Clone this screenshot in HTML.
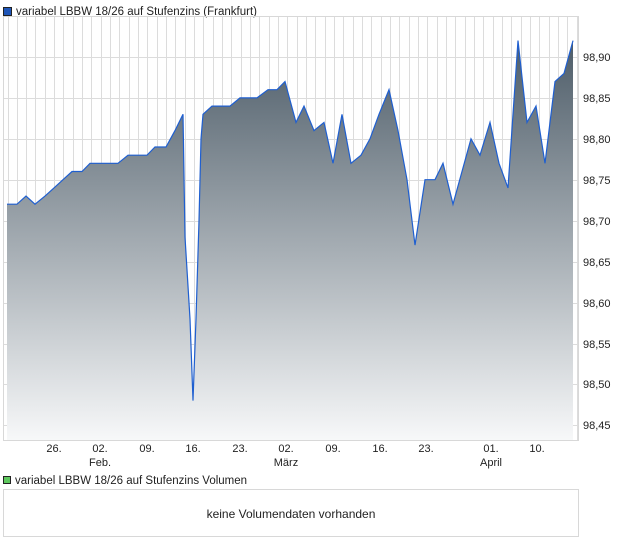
<!DOCTYPE html><html><head><style>
body{margin:0;background:#fff;font-family:"Liberation Sans",sans-serif;}
</style></head><body>
<svg width="620" height="546" xmlns="http://www.w3.org/2000/svg" style="display:block">
<defs><linearGradient id="g" gradientUnits="userSpaceOnUse" x1="0" y1="40" x2="0" y2="440">
<stop offset="0" stop-color="#4d5c68"/><stop offset="1" stop-color="#f7f8f9"/></linearGradient></defs>
<rect x="3.5" y="7.5" width="8" height="8" fill="#1f56b8" stroke="#222" stroke-width="1"/>
<text x="16" y="15" font-size="11.5" fill="#222">variabel LBBW 18/26 auf Stufenzins (Frankfurt)</text>
<g stroke="#dcdcdc" stroke-width="1">
<line x1="3" y1="57.5" x2="578" y2="57.5"/><line x1="3" y1="98.5" x2="578" y2="98.5"/><line x1="3" y1="139.5" x2="578" y2="139.5"/><line x1="3" y1="180.5" x2="578" y2="180.5"/><line x1="3" y1="221.5" x2="578" y2="221.5"/><line x1="3" y1="262.5" x2="578" y2="262.5"/><line x1="3" y1="303.5" x2="578" y2="303.5"/><line x1="3" y1="344.5" x2="578" y2="344.5"/><line x1="3" y1="384.5" x2="578" y2="384.5"/><line x1="3" y1="425.5" x2="578" y2="425.5"/>
</g>
<g id="v" stroke="#dcdcdc" stroke-width="1"></g>
<rect x="3.5" y="16.5" width="575" height="424" fill="none" stroke="#d8d8d8"/>
<path id="area" fill="url(#g)"/>
<path id="ln" fill="none" stroke="#1f5fd0" stroke-width="1.2"/>
<g font-size="11" fill="#222">
<text x="583" y="61">98,90</text><text x="583" y="102">98,85</text><text x="583" y="143">98,80</text><text x="583" y="184">98,75</text><text x="583" y="225">98,70</text><text x="583" y="266">98,65</text><text x="583" y="307">98,60</text><text x="583" y="348">98,55</text><text x="583" y="388">98,50</text><text x="583" y="429">98,45</text>
</g>
<g font-size="11" fill="#222" text-anchor="middle">
<text x="54" y="452">26.</text><text x="100" y="452">02.</text><text x="147" y="452">09.</text><text x="193" y="452">16.</text><text x="240" y="452">23.</text><text x="286" y="452">02.</text><text x="333" y="452">09.</text><text x="380" y="452">16.</text><text x="426" y="452">23.</text><text x="491" y="452">01.</text><text x="537" y="452">10.</text>
<text x="100" y="466">Feb.</text><text x="286" y="466">März</text><text x="491" y="466">April</text>
</g>
<rect x="3.5" y="476.5" width="7" height="7" fill="#5ec85e" stroke="#222"/>
<text x="15" y="484" font-size="11.5" fill="#222">variabel LBBW 18/26 auf Stufenzins Volumen</text>
<rect x="3.5" y="489.5" width="575" height="47" fill="#fff" stroke="#d8d8d8"/>
<text x="291" y="518" font-size="12" fill="#222" text-anchor="middle">keine Volumendaten vorhanden</text>
</svg>
<script>
var d=[[7,98.72],[17,98.72],[26,98.73],[35,98.72],[45,98.73],[54,98.74],[63,98.75],[72,98.76],[82,98.76],[90,98.77],[118,98.77],[128,98.78],[147,98.78],[155,98.79],[166,98.79],[175,98.81],[183,98.83],[185,98.68],[190,98.58],[193,98.48],[196,98.58],[199,98.70],[201,98.80],[203,98.83],[212,98.84],[230,98.84],[240,98.85],[257,98.85],[268,98.86],[277,98.86],[285,98.87],[296,98.82],[304,98.84],[314,98.81],[324,98.82],[333,98.77],[342,98.83],[351,98.77],[361,98.78],[370,98.80],[379,98.83],[389,98.86],[398,98.81],[407,98.75],[415,98.67],[425,98.75],[435,98.75],[443,98.77],[453,98.72],[462,98.76],[471,98.80],[480,98.78],[490,98.82],[499,98.77],[508,98.74],[518,98.92],[527,98.82],[536,98.84],[545,98.77],[555,98.87],[564,98.88],[573,98.92]];
function y(v){return 57+(98.90-v)/0.05*40.9;}
var p=d.map(function(q){return q[0]+","+y(q[1]).toFixed(1)}).join(" L");
document.getElementById("ln").setAttribute("d","M"+p);
document.getElementById("area").setAttribute("d","M"+p+" L573,440 L7,440 Z");
var g=document.getElementById("v"),s="";
for(var x=7.5;x<578;x+=9.33){s+='<line x1="'+Math.round(x)+'.5" y1="16" x2="'+Math.round(x)+'.5" y2="440"/>';}
g.innerHTML=s;
</script>
</body></html>
